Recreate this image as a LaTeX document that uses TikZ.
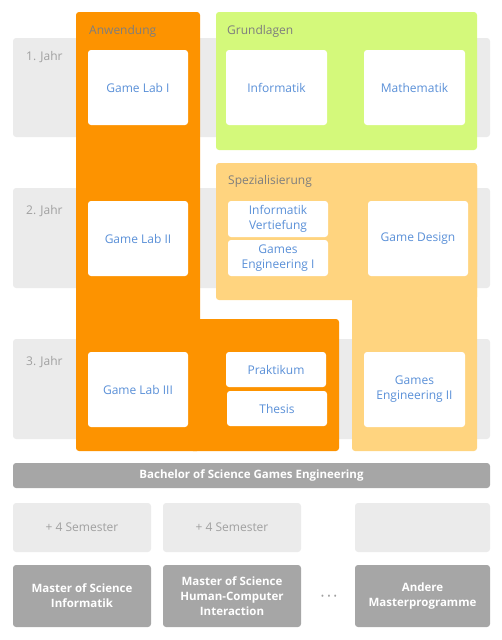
\documentclass[tikz,border=0pt]{standalone}
\usepackage{fontspec}
\setmainfont{Open Sans}
\begin{document}
\begin{tikzpicture}[x=1pt,y=-1pt,
  yearrow/.style={fill=rowgray,rounded corners=3pt},
  wbox/.style={fill=white,rounded corners=3pt,text=txtblue,align=center,
    font=\fontsize{12}{15}\selectfont,inner sep=0pt},
  grp/.style={text=lblgray,anchor=base west,font=\fontsize{12}{14}\selectfont,inner sep=0pt},
  year/.style={text=yeargray,anchor=base west,font=\fontsize{12}{14}\selectfont,inner sep=0pt},
  semb/.style={fill=rowgray,rounded corners=3pt,text=yeargray,font=\fontsize{12}{15}\selectfont,
    minimum width=138pt,minimum height=49pt,inner sep=0pt},
  mast/.style={fill=darkgray2,rounded corners=3pt,text=white,align=center,
    font=\bfseries\fontsize{11.5}{15}\selectfont,minimum width=138pt,minimum height=62pt,inner sep=0pt}
]
\definecolor{rowgray}{HTML}{EBEBEB}
\definecolor{darkgray2}{HTML}{A6A6A6}
\definecolor{txtblue}{HTML}{5A90D8}
\definecolor{lblgray}{HTML}{7E7E7E}
\definecolor{yeargray}{HTML}{A0A0A0}
\definecolor{appor}{HTML}{FD9300}
\definecolor{grgreen}{HTML}{D4F97B}
\definecolor{spor}{HTML}{FFD47F}
\useasboundingbox (0,0) rectangle (502,640);
% year rows
\fill[yearrow] (13,38) rectangle (490,137);
\fill[yearrow] (13,188) rectangle (490,288);
\fill[yearrow] (13,339) rectangle (490,439);
\node[year] (y1) at (26,60) {1. Jahr};
\node[year] (y2) at (26,214) {2. Jahr};
\node[year] (y3) at (26,365) {3. Jahr};
% Anwendung
\fill[appor,rounded corners=3pt] (76,12) rectangle (200,451);
\fill[appor,rounded corners=3pt] (190,319) rectangle (339,451);
% Grundlagen
\fill[grgreen,rounded corners=3pt] (216,12) rectangle (477,150);
% Spezialisierung
\fill[spor,rounded corners=3pt] (216,163) rectangle (477,300);
\fill[spor,rounded corners=3pt] (352,163) rectangle (477,451);
\node[grp] (lanw) at (89,34) {Anwendung};
\node[grp] (lgr) at (227,34) {Grundlagen};
\node[grp] (lsp) at (228,184) {Spezialisierung};
% white boxes
\node[wbox,minimum width=100pt,minimum height=75pt] (gl1) at (138,87.5) {Game Lab I};
\node[wbox,minimum width=101pt,minimum height=75pt] (inf) at (276.5,87.5) {Informatik};
\node[wbox,minimum width=101pt,minimum height=75pt] (mat) at (414.5,87.5) {Mathematik};
\node[wbox,minimum width=100pt,minimum height=75pt] (gl2) at (138,238.5) {Game Lab II};
\node[wbox,minimum width=100pt,minimum height=36pt] (iv) at (278,219) {Informatik\\Vertiefung};
\node[wbox,minimum width=100pt,minimum height=36pt] (ge1) at (278,258) {Games\\Engineering I};
\node[wbox,minimum width=100pt,minimum height=75pt] (gd) at (418,238.5) {Game Design};
\node[wbox,minimum width=100pt,minimum height=75pt] (gl3) at (138,389.5) {Game Lab III};
\node[wbox,minimum width=100pt,minimum height=35pt] (pr) at (276,369.5) {Praktikum};
\node[wbox,minimum width=100pt,minimum height=35pt] (th) at (277,408.5) {Thesis};
\node[wbox,minimum width=101pt,minimum height=75pt] (ge2) at (414.5,389.5) {Games\\Engineering II};
% Bachelor
\node[fill=darkgray2,rounded corners=3pt,text=white,font=\bfseries\fontsize{11.5}{14}\selectfont,
  minimum width=477pt,minimum height=25pt,inner sep=0pt] (bsc) at (251.5,475.5) {Bachelor of Science Games Engineering};
% semesters
\node[semb] (s1) at (82,527.5) {+ 4 Semester};
\node[semb] (s2) at (232,527.5) {+ 4 Semester};
\node[semb,minimum width=135pt] (s3) at (422.5,527.5) {};
% masters
\node[mast] (m1) at (82,596) {Master of Science\\Informatik};
\node[mast] (m2) at (232,596) {Master of Science\\Human-Computer\\Interaction};
\node[mast,minimum width=135pt] (m3) at (422.5,596) {Andere\\Masterprogramme};
\node[text=yeargray,font=\fontsize{9}{9}\selectfont,inner sep=0pt] (dots) at (329,597) {•\,\,•\,\,•};
\end{tikzpicture}
\end{document}
